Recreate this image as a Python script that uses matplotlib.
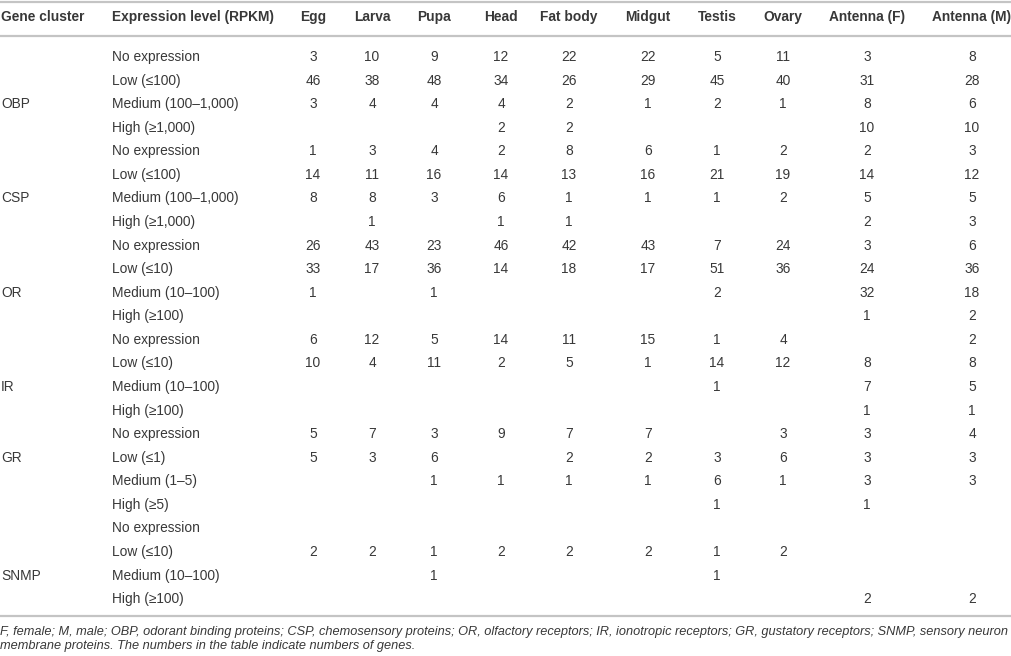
import matplotlib
matplotlib.use('Agg')
from matplotlib import pyplot as plt

plt.rcParams['font.family'] = ['Liberation Sans', 'DejaVu Sans']

tissues = ['Egg', 'Larva', 'Pupa', 'Head', 'Fat body', 'Midgut',
           'Testis', 'Ovary', 'Antenna (F)', 'Antenna (M)']

clusters = ['OBP', 'CSP', 'OR', 'IR', 'GR', 'SNMP']
# which row of its group the cluster name sits on
cluster_label_row = [2, 2, 2, 2, 1, 2]

levels = {
    'OBP': ['No expression', 'Low (≤100)', 'Medium (100–1,000)', 'High (≥1,000)'],
    'CSP': ['No expression', 'Low (≤100)', 'Medium (100–1,000)', 'High (≥1,000)'],
    'OR': ['No expression', 'Low (≤10)', 'Medium (10–100)', 'High (≥100)'],
    'IR': ['No expression', 'Low (≤10)', 'Medium (10–100)', 'High (≥100)'],
    'GR': ['No expression', 'Low (≤1)', 'Medium (1–5)', 'High (≥5)'],
    'SNMP': ['No expression', 'Low (≤10)', 'Medium (10–100)', 'High (≥100)'],
}

N = None
obp = [[3, 10, 9, 12, 22, 22, 5, 11, 3, 8],
       [46, 38, 48, 34, 26, 29, 45, 40, 31, 28],
       [3, 4, 4, 4, 2, 1, 2, 1, 8, 6],
       [N, N, N, 2, 2, N, N, N, 10, 10]]
csp = [[1, 3, 4, 2, 8, 6, 1, 2, 2, 3],
       [14, 11, 16, 14, 13, 16, 21, 19, 14, 12],
       [8, 8, 3, 6, 1, 1, 1, 2, 5, 5],
       [N, 1, N, 1, 1, N, N, N, 2, 3]]
orr = [[26, 43, 23, 46, 42, 43, 7, 24, 3, 6],
       [33, 17, 36, 14, 18, 17, 51, 36, 24, 36],
       [1, N, 1, N, N, N, 2, N, 32, 18],
       [N, N, N, N, N, N, N, N, 1, 2]]
ir = [[6, 12, 5, 14, 11, 15, 1, 4, N, 2],
      [10, 4, 11, 2, 5, 1, 14, 12, 8, 8],
      [N, N, N, N, N, N, 1, N, 7, 5],
      [N, N, N, N, N, N, N, N, 1, 1]]
gr = [[5, 7, 3, 9, 7, 7, N, 3, 3, 4],
      [5, 3, 6, N, 2, 2, 3, 6, 3, 3],
      [N, N, 1, 1, 1, 1, 6, 1, 3, 3],
      [N, N, N, N, N, N, 1, N, 1, N]]
snmp = [[N, N, N, N, N, N, N, N, N, N],
        [2, 2, 1, 2, 2, 2, 1, 2, N, N],
        [N, N, 1, N, N, N, 1, N, N, N],
        [N, N, N, N, N, N, N, N, 2, 2]]
counts = {'OBP': obp, 'CSP': csp, 'OR': orr, 'IR': ir, 'GR': gr, 'SNMP': snmp}

footnote = ['F, female; M, male; OBP, odorant binding proteins; CSP, chemosensory proteins; '
            'OR, olfactory receptors; IR, ionotropic receptors; GR, gustatory receptors; SNMP, sensory neuron',
            'membrane proteins. The numbers in the table indicate numbers of genes.']

# layout (pixels)
W, H = 1012, 656
col_x = [313, 372, 434, 501, 569, 648, 717, 783, 867, 972]
x_cluster, x_level = 1, 112
y_header, y_first, row_h = 17, 57, 23.57
txt = '#383838'
rule = '#c4c4c4'
fs = 9.9

fig = plt.figure(figsize=(W / 100, H / 100), dpi=100)
ax = fig.add_axes([0, 0, 1, 1])
ax.set_xlim(0, W)
ax.set_ylim(H, 0)
ax.axis('off')

for y in (1.5, 36, 615.5):
    ax.plot([0, W], [y, y], color=rule, lw=1.6, solid_capstyle='butt')

ax.text(x_cluster, y_header, 'Gene cluster', fontsize=fs, fontweight='bold',
        color=txt, va='center', ha='left')
ax.text(x_level, y_header, 'Expression level (RPKM)', fontsize=fs, fontweight='bold',
        color=txt, va='center', ha='left')
for t, x in zip(tissues, col_x):
    ax.text(x, y_header, t, fontsize=fs, fontweight='bold', color=txt,
            va='center', ha='center')

row = 0
for ci, c in enumerate(clusters):
    for li, lev in enumerate(levels[c]):
        y = y_first + row * row_h
        if li == cluster_label_row[ci]:
            ax.text(x_cluster, y, c, fontsize=fs, color=txt, va='center', ha='left')
        ax.text(x_level, y, lev, fontsize=fs, color=txt, va='center', ha='left')
        for v, x in zip(counts[c][li], col_x):
            if v is not None:
                ax.text(x, y, str(v), fontsize=fs, color=txt, va='center', ha='center')
        row += 1

for i, line in enumerate(footnote):
    ax.text(0, 632 + i * 13.5, line, fontsize=9.2, style='italic', color=txt,
            va='center', ha='left')

fig.savefig('out.png', dpi=100)
